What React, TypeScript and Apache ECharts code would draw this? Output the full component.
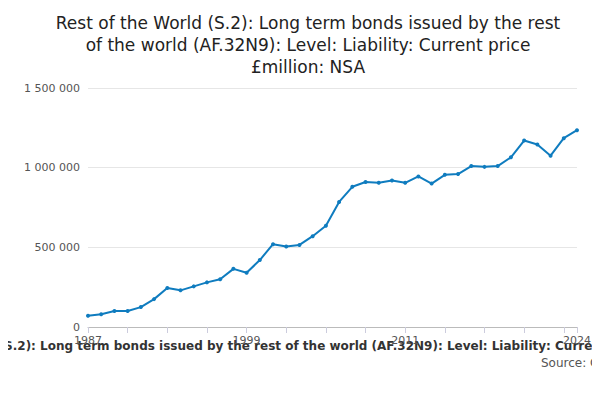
import React, { useEffect, useRef } from "react";
import * as echarts from "echarts";

const years: string[] = [];
for (let y = 1987; y <= 2024; y++) years.push(String(y));
const values = [70000, 80000, 100000, 100000, 125000, 175000, 245000, 230000, 255000, 280000, 300000, 365000, 340000, 420000, 520000, 505000, 515000, 570000, 635000, 785000, 880000, 910000, 905000, 920000, 905000, 945000, 900000, 955000, 960000, 1010000, 1005000, 1010000, 1065000, 1170000, 1145000, 1075000, 1185000, 1235000];
const shownLabels = ["1987", "1999", "2011", "2024"];

export default function App() {
  const ref = useRef<HTMLDivElement>(null);
  useEffect(() => {
    const chart = echarts.init(ref.current!, null, { renderer: "svg" });
    const font = "'DejaVu Sans', sans-serif";
    chart.setOption({
      animation: false,
      textStyle: { fontFamily: font },
      title: {
        text: "Rest of the World (S.2): Long term bonds issued by the rest\nof the world (AF.32N9): Level: Liability: Current price\n£million: NSA",
        left: "center", top: -1,
        textStyle: { fontSize: 17, fontWeight: "normal", color: "#222", lineHeight: 22, fontFamily: font },
      },
      grid: { left: 80, right: 31, top: 80, bottom: 81 },
      xAxis: {
        type: "category", data: years, boundaryGap: false,
        axisLine: { lineStyle: { color: "#bbb" } },
        axisTick: { interval: (i: number) => i % 3 === 0 || i === years.length - 1, lineStyle: { color: "#ccd" }, length: 6 },
        axisLabel: { interval: (i: number, v: string) => shownLabels.includes(v), color: "#555", fontSize: 11, fontFamily: font },
      },
      yAxis: {
        type: "value", min: 0, max: 1500000, interval: 500000,
        axisLine: { show: false }, axisTick: { show: false },
        splitLine: { lineStyle: { color: "#e6e6e6" } },
        axisLabel: { color: "#555", fontSize: 11, fontFamily: font, formatter: (v: number) => v.toLocaleString("en-US").replace(/,/g, " ") },
      },
      series: [{
        type: "line", data: values, symbol: "circle", symbolSize: 4,
        lineStyle: { color: "#0f7cbf", width: 2 }, itemStyle: { color: "#0f7cbf" },
      }],
      graphic: [
        { type: "text", left: "center", top: 332, style: { text: "Rest of the World (S.2): Long term bonds issued by the rest of the world (AF.32N9): Level: Liability: Current price £million: NSA", fontSize: 12, fontWeight: "bold", fill: "#333", fontFamily: font } },
        { type: "text", left: 533, top: 349, style: { text: "Source: Office for National Statistics", fontSize: 12, fill: "#555", fontFamily: font } },
      ],
    });
    return () => chart.dispose();
  }, []);
  return <div ref={ref} style={{ width: 600, height: 400 }} />;
}
